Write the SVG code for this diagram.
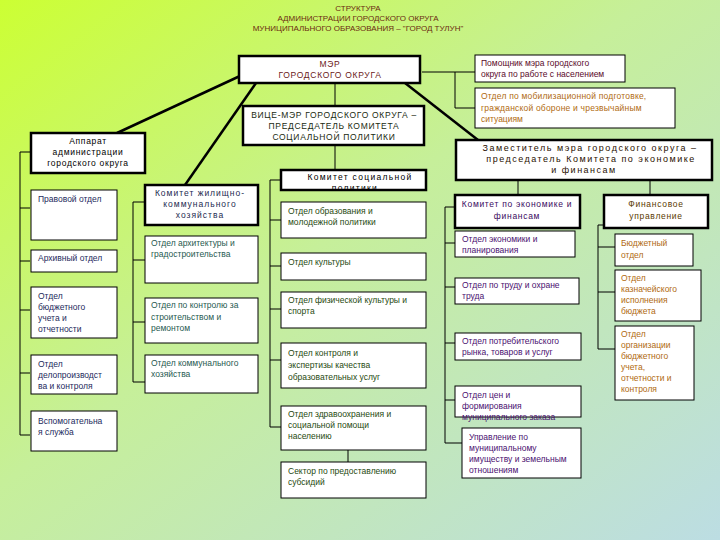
<svg xmlns="http://www.w3.org/2000/svg" width="720" height="540" viewBox="0 0 720 540">
<defs>
<linearGradient id="bg" x1="0" y1="0" x2="1" y2="1">
<stop offset="0" stop-color="#ccff33"/>
<stop offset="0.45" stop-color="#c6ef9a"/>
<stop offset="1" stop-color="#bcdde3"/>
</linearGradient>
<style>
text{font-family:"Liberation Sans",Arial,sans-serif;font-size:8.5px}
.b{fill:#fff;stroke:#000;stroke-width:1}
.B{fill:#fff;stroke:#000;stroke-width:2.5}
.m{text-anchor:middle}
.sp{letter-spacing:0.7px}
.t{fill:#6b2a10;font-size:8px}
.c line,.c polyline{stroke:#000;stroke-width:1;fill:none}
.c .k{stroke-width:2.5}
.navy{fill:#1c2a5c}
.teal{fill:#1f5a50}
.grn{fill:#1f4a10}
.pur{fill:#4a1070}
.org{fill:#b06a10}
.brn{fill:#5a3a00}
</style>
</defs>
<rect width="720" height="540" fill="url(#bg)"/>
<g id="title" class="t">
<text class="m" x="358" y="11" style="font-size:8px;fill:#6b2a10">СТРУКТУРА</text>
<text class="m" x="358" y="21" style="font-size:8px;fill:#6b2a10">АДМИНИСТРАЦИИ ГОРОДСКОГО ОКРУГА</text>
<text class="m" x="358" y="31" style="font-size:8px;fill:#6b2a10">МУНИЦИПАЛЬНОГО ОБРАЗОВАНИЯ – "ГОРОД ТУЛУН"</text>
</g>
<g class="c" id="connectors">
<line class="k" x1="240" y1="76" x2="117" y2="133"/>
<line class="k" x1="256" y1="83" x2="185" y2="185"/>
<line class="k" x1="405" y1="83" x2="478" y2="140"/>
<line x1="335" y1="83" x2="335" y2="106"/>
<line x1="335" y1="145" x2="335" y2="170"/>
<polyline points="422,72 455,72 455,108 475,108"/>
<line x1="455" y1="72" x2="475" y2="72"/>
<polyline points="30,152 20,152 20,435 30,435"/>
<line x1="20" y1="208" x2="30" y2="208"/>
<line x1="20" y1="261" x2="30" y2="261"/>
<line x1="20" y1="310" x2="30" y2="310"/>
<line x1="20" y1="373" x2="30" y2="373"/>
<polyline points="145,202 133,202 133,382 145,382"/>
<line x1="133" y1="260" x2="145" y2="260"/>
<line x1="133" y1="322" x2="145" y2="322"/>
<polyline points="281,180 270,180 270,427 281,427"/>
<line x1="270" y1="220" x2="281" y2="220"/>
<line x1="270" y1="266" x2="281" y2="266"/>
<line x1="270" y1="309" x2="281" y2="309"/>
<line x1="270" y1="360" x2="281" y2="360"/>
<line x1="348" y1="450" x2="348" y2="462"/>
<line x1="518" y1="180" x2="518" y2="195"/>
<line x1="650" y1="180" x2="650" y2="195"/>
<polyline points="455,207 445,207 445,443 462,443"/>
<line x1="445" y1="243" x2="455" y2="243"/>
<line x1="445" y1="287" x2="455" y2="287"/>
<line x1="445" y1="343" x2="455" y2="343"/>
<line x1="445" y1="400" x2="455" y2="400"/>
<polyline points="605,225 598,225 598,349 615,349"/>
<line x1="598" y1="247" x2="615" y2="247"/>
<line x1="598" y1="292" x2="615" y2="292"/>
</g>
<g id="mayor"><rect class="B" x="239" y="56" width="181" height="27"/>
<text class="m sp" x="330" y="67" fill="#6b2020">МЭР</text><text class="m sp" x="330" y="78" fill="#6b2020">ГОРОДСКОГО ОКРУГА</text></g>
<g id="helper"><rect class="b" x="475" y="55" width="150" height="27"/>
<text x="481" y="66" fill="#5a0a2a">Помощник мэра городского</text><text x="481" y="77" fill="#5a0a2a">округа по работе с населением</text></g>
<g id="mobil"><rect class="b" x="475" y="88" width="200" height="40"/>
<text x="481" y="99" class="org" style="letter-spacing:0.2px">Отдел по мобилизационной подготовке,</text><text x="481" y="111" class="org" style="letter-spacing:0.2px">гражданской обороне и чрезвычайным</text><text x="481" y="122" class="org">ситуациям</text></g>
<g id="vice"><rect class="B" x="243" y="106" width="181" height="39"/>
<text class="m sp" x="334" y="118" fill="#1a2a10">ВИЦЕ-МЭР ГОРОДСКОГО ОКРУГА –</text><text class="m sp" x="334" y="129" fill="#1a2a10">ПРЕДСЕДАТЕЛЬ КОМИТЕТА</text><text class="m sp" x="334" y="140" fill="#1a2a10">СОЦИАЛЬНОЙ ПОЛИТИКИ</text></g>
<g id="apparat"><rect class="B" x="31" y="133" width="114" height="40"/>
<text class="m sp" x="88" y="144" fill="#000">Аппарат</text><text class="m sp" x="88" y="155" fill="#000">администрации</text><text class="m sp" x="88" y="166" fill="#000">городского округа</text></g>
<g id="deputy"><rect class="B" x="456" y="140" width="256" height="40"/>
<text class="m" x="590" y="151" fill="#2a1000" style="font-size:9px;letter-spacing:1.5px">Заместитель мэра городского округа –</text><text class="m" x="591" y="162" fill="#2a1000" style="font-size:9px;letter-spacing:1.5px">председатель Комитета по экономике</text><text class="m" x="584" y="173" fill="#2a1000" style="font-size:9px;letter-spacing:1.5px">и финансам</text></g>
<g id="social"><rect class="B" x="281" y="170" width="145" height="20"/>
<text class="m" x="360" y="180" fill="#000" style="letter-spacing:1.3px">Комитет социальной</text><text class="m" x="355" y="191" fill="#000" style="letter-spacing:1.3px">политики</text></g>
<g id="housing"><rect class="B" x="145" y="185" width="113" height="40"/>
<text class="m" x="200" y="196" fill="#1c2a50" style="letter-spacing:1px">Комитет жилищно-</text><text class="m" x="200" y="207" fill="#1c2a50" style="letter-spacing:1px">коммунального</text><text class="m" x="200" y="218" fill="#1c2a50" style="letter-spacing:1px">хозяйства</text></g>
<g id="legal"><rect class="b" x="31" y="190" width="86" height="50"/><text x="38" y="202" class="navy">Правовой отдел</text></g>
<g id="archive"><rect class="b" x="31" y="250" width="86" height="22"/><text x="38" y="261" class="navy">Архивный отдел</text></g>
<g id="budgacc"><rect class="b" x="31" y="287" width="86" height="51"/>
<text x="38" y="299" class="navy">Отдел</text><text x="38" y="310" class="navy">бюджетного</text><text x="38" y="321" class="navy">учета и</text><text x="38" y="332" class="navy">отчетности</text></g>
<g id="records"><rect class="b" x="31" y="355" width="86" height="39"/>
<text x="38" y="367" class="navy">Отдел</text><text x="38" y="378" class="navy">делопроизводст</text><text x="38" y="389" class="navy">ва и контроля</text></g>
<g id="aux"><rect class="b" x="31" y="411" width="86" height="40"/>
<text x="38" y="424" class="navy">Вспомогательна</text><text x="38" y="435" class="navy">я служба</text></g>
<g id="arch"><rect class="b" x="145" y="236" width="113" height="47"/>
<text x="151" y="246" class="teal">Отдел архитектуры и</text><text x="151" y="257" class="teal">градостроительства</text></g>
<g id="constr"><rect class="b" x="145" y="298" width="113" height="45"/>
<text x="151" y="308" class="teal">Отдел по контролю за</text><text x="151" y="320" class="teal">строительством и</text><text x="151" y="331" class="teal">ремонтом</text></g>
<g id="communal"><rect class="b" x="145" y="355" width="113" height="38"/>
<text x="151" y="366" class="teal">Отдел коммунального</text><text x="151" y="377" class="teal">хозяйства</text></g>
<g id="edu"><rect class="b" x="281" y="202" width="145" height="36"/>
<text x="288" y="214" class="grn">Отдел образования и</text><text x="288" y="225" class="grn">молодежной политики</text></g>
<g id="culture"><rect class="b" x="281" y="253" width="145" height="27"/><text x="288" y="265" class="grn">Отдел культуры</text></g>
<g id="sport"><rect class="b" x="281" y="292" width="145" height="36"/>
<text x="288" y="303" class="grn">Отдел физической культуры и</text><text x="288" y="314" class="grn">спорта</text></g>
<g id="control"><rect class="b" x="281" y="343" width="145" height="45"/>
<text x="288" y="356" class="grn">Отдел контроля и</text><text x="288" y="368" class="grn">экспертизы качества</text><text x="288" y="380" class="grn">образовательных услуг</text></g>
<g id="health"><rect class="b" x="281" y="406" width="145" height="44"/>
<text x="288" y="417" class="grn">Отдел здравоохранения и</text><text x="288" y="428" class="grn">социальной помощи</text><text x="288" y="439" class="grn">населению</text></g>
<g id="subsidy"><rect class="b" x="281" y="462" width="145" height="36"/>
<text x="288" y="474" class="grn">Сектор по предоставлению</text><text x="288" y="485" class="grn">субсидий</text></g>
<g id="econ"><rect class="B" x="455" y="195" width="125" height="33"/>
<text class="m sp" x="517" y="207" fill="#3a0a60">Комитет по экономике и</text><text class="m sp" x="517" y="219" fill="#3a0a60">финансам</text></g>
<g id="fin"><rect class="B" x="604" y="195" width="104" height="33"/>
<text class="m sp" x="656" y="207" fill="#5a3a00">Финансовое</text><text class="m sp" x="656" y="219" fill="#5a3a00">управление</text></g>
<g id="plan"><rect class="b" x="455" y="231" width="120" height="26"/>
<text x="462" y="242" class="pur">Отдел экономики и</text><text x="462" y="253" class="pur">планирования</text></g>
<g id="labor"><rect class="b" x="455" y="278" width="124" height="26"/>
<text x="462" y="288" class="pur">Отдел по труду и охране</text><text x="462" y="299" class="pur">труда</text></g>
<g id="consumer"><rect class="b" x="455" y="333" width="126" height="27"/>
<text x="462" y="344" class="pur">Отдел потребительского</text><text x="462" y="355" class="pur">рынка, товаров и услуг</text></g>
<g id="prices"><rect class="b" x="455" y="386" width="126" height="31"/>
<text x="462" y="398" class="pur">Отдел цен и</text><text x="462" y="409" class="pur">формирования</text><text x="462" y="420" class="pur">муниципального заказа</text></g>
<g id="property"><rect class="b" x="462" y="428" width="119" height="50"/>
<text x="469" y="440" class="pur">Управление по</text><text x="469" y="451" class="pur">муниципальному</text><text x="469" y="462" class="pur">имуществу и земельным</text><text x="469" y="473" class="pur">отношениям</text></g>
<g id="budget"><rect class="b" x="615" y="234" width="78" height="32"/>
<text x="621" y="246" class="org">Бюджетный</text><text x="621" y="258" class="org">отдел</text></g>
<g id="treasury"><rect class="b" x="615" y="270" width="86" height="51"/>
<text x="621" y="281" class="org">Отдел</text><text x="621" y="292" class="org">казначейского</text><text x="621" y="303" class="org">исполнения</text><text x="621" y="314" class="org">бюджета</text></g>
<g id="orgbudget"><rect class="b" x="615" y="326" width="79" height="74"/>
<text x="621" y="337" class="org">Отдел</text><text x="621" y="348" class="org">организации</text><text x="621" y="359" class="org">бюджетного</text><text x="621" y="370" class="org">учета,</text><text x="621" y="381" class="org">отчетности и</text><text x="621" y="392" class="org">контроля</text></g>
</svg>
